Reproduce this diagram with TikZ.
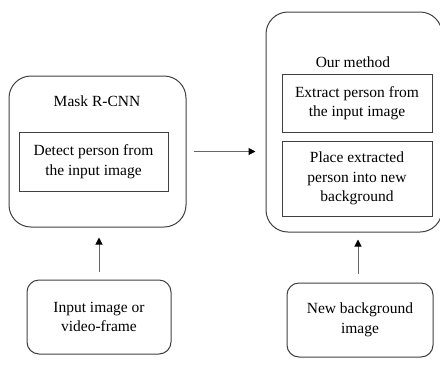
\documentclass[tikz,border=0pt]{standalone}
\usepackage{fontspec}
\setmainfont{Liberation Serif}
\usetikzlibrary{arrows.meta}
\begin{document}
\begin{tikzpicture}[x=1pt,y=-1pt,
  bigbox/.style={draw=black!75,line width=1pt,rounded corners=22pt,inner sep=0pt},
  inbox/.style={draw=black!75,line width=1pt,inner sep=0pt,align=center,font=\fontsize{15.5}{19.5}\selectfont},
  srcbox/.style={draw=black!75,line width=1pt,rounded corners=12pt,inner sep=0pt,align=center,font=\fontsize{15.5}{19.5}\selectfont},
  ttl/.style={inner sep=0pt,font=\fontsize{15.5}{19.5}\selectfont},
  flow/.style={draw=black!60,line width=1pt,-{Triangle[length=7pt,width=7pt]},arrows={[color=black]}}
]
\useasboundingbox (0,0) rectangle (440,376);
\clip (0,0) rectangle (440,376);
% left big box
\node[bigbox,minimum width=177pt,minimum height=151pt] (mrcnn) at (97.5,151.5) {};
\node[ttl] (mtitle) at (97,101) {Mask R-CNN};
\node[inbox,minimum width=149pt,minimum height=59pt] (detect) at (93.5,161.5) {Detect person from\\the input image};
% right big box
\node[bigbox,minimum width=176pt,minimum height=220pt] (ours) at (354,122) {};
\node[ttl] (otitle) at (353,62) {Our method};
\node[inbox,minimum width=150pt,minimum height=58pt] (extract) at (357,103) {Extract person from\\the input image};
\node[inbox,minimum width=150pt,minimum height=75pt] (place) at (357,178.5) {Place extracted\\person into new\\background};
% bottom boxes
\node[srcbox,minimum width=144pt,minimum height=74pt] (input) at (99,317) {Input image or\\video-frame};
\node[srcbox,minimum width=146pt,minimum height=74pt] (newbg) at (360,320) {New background\\image};
% arrows
\draw[flow,shorten <=7pt,shorten >=10pt] (mrcnn.east) -- (ours.west |- mrcnn.east);
\draw[flow,shorten <=8pt,shorten >=10pt] (input.north) -- (input.north |- mrcnn.south);
\draw[flow,shorten <=9pt,shorten >=7pt] (newbg.north -| 358,0) -- (358,0 |- ours.south);
\end{tikzpicture}
\end{document}
